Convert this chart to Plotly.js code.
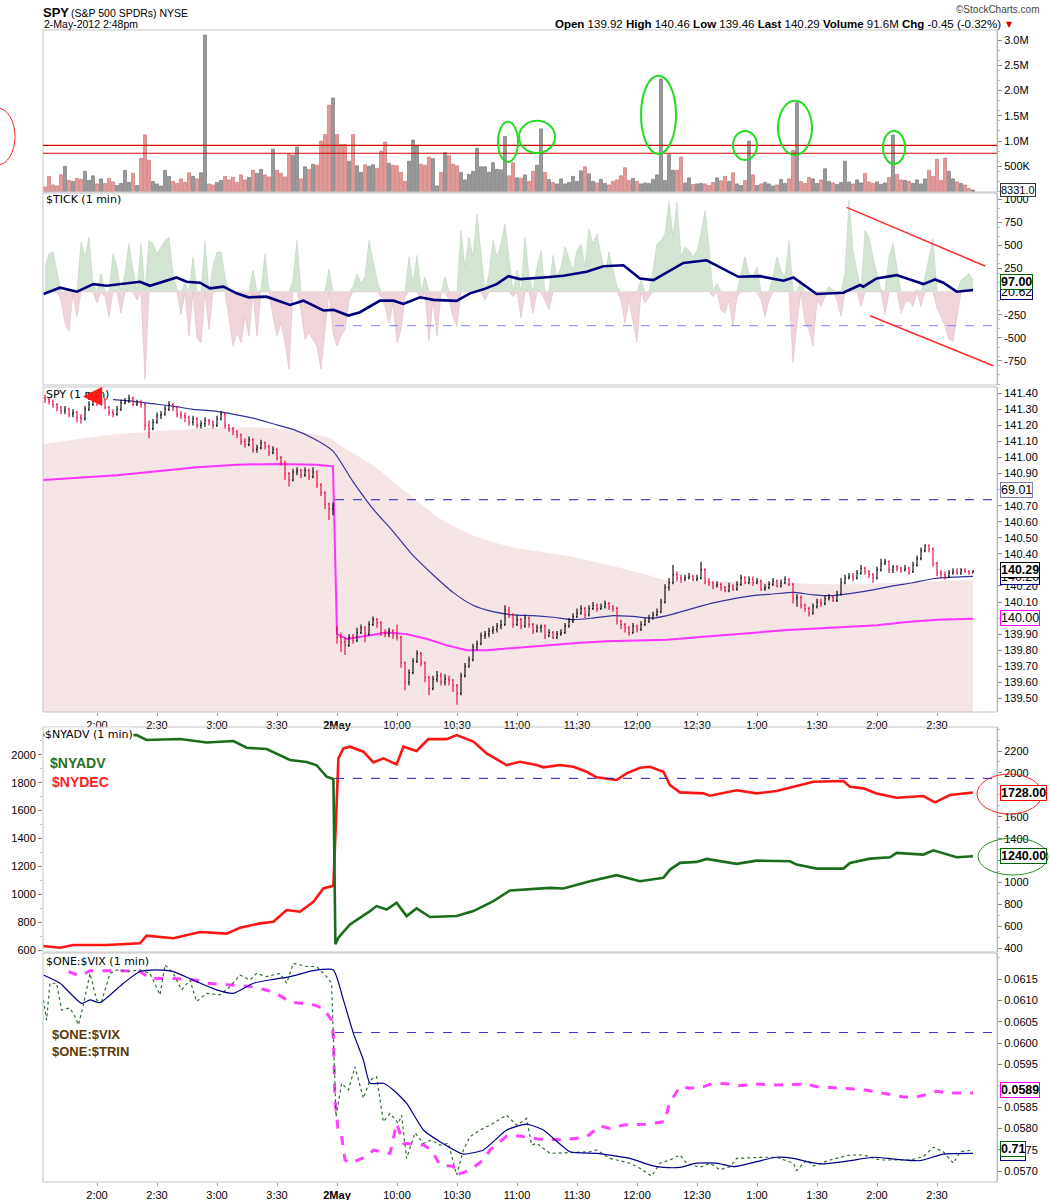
<!DOCTYPE html>
<html><head><meta charset="utf-8">
<script src="https://cdn.plot.ly/plotly-3.0.1.min.js"></script>
<style>html,body{margin:0;padding:0;background:#fff}#chart{width:1050px;height:1200px}</style>
</head><body><div id="chart"></div>
<script>
// ---------- time axis: session minutes from 1-May 14:00 (1-May 16:00 close joins 2-May 09:30 open = 120) ----------
const timeTickPos = [0,30,60,90,120,150,180,210,240,270,300,330,360,390,420];
const timeTickLabels = ['2:00','2:30','3:00','3:30','<b>2May</b>','10:00','10:30','11:00','11:30','12:00','12:30','1:00','1:30','2:00','2:30'];
const GRID_START = -26, GRID_STEP = 2;   // 2-minute sampling, 13:34 (1-May) .. 14:48 (2-May)

// ---------- volume (thousands of shares) ----------
const volumeK = [
90,300,130,110,330,500,220,200,260,240, 400,220,310,150,250,160,260,190,120,160,
420,180,360,120,660,1120,620,200,150,110, 420,300,200,160,250,180,370,300,250,370,
3100,150,130,180,220,300,230,280,180,330, 230,280,420,360,440,330,290,840,420,360,
290,740,720,880,250,490,440,540,520,1000, 1130,1710,1850,1130,930,930,600,1130,510,380,
530,500,530,460,800,980,560,520,510,380, 200,600,1020,900,540,520,680,650,110,380,
770,710,540,510,380,230,340,400,860,490, 490,380,570,440,430,1090,310,570,270,260,
330,200,400,520,1240,380,240,180,150,250, 150,180,300,200,410,490,350,200,170,240,
160,130,200,230,310,470,220,260,200,150, 170,160,240,330,2230,220,730,420,420,680,
170,270,140,150,160,150,120,180,270,210, 300,200,370,150,120,220,1000,330,120,150,
180,150,110,130,240,160,250,810,1760,200, 160,280,250,160,230,450,200,170,140,180,
600,190,150,230,170,360,190,160,190,140, 170,280,1120,340,230,220,200,160,230,150,
250,420,300,640,220,660,400,250,190,160, 130,60,30];
const volTickLabels = ['500K','1.0M','1.5M','2.0M','2.5M','3.0M'];
const volTickVals = [500,1000,1500,2000,2500,3000];
const volRefLines = [915,757];

// ---------- SPY 2-minute OHLC ----------
const spyOpen = [
141.37,141.36,141.35,141.33,141.31,141.29,141.30,141.27,141.28,141.25, 141.24,141.30,141.33,141.35,141.34,141.36,141.31,141.28,141.27,141.30,
141.34,141.35,141.37,141.33,141.34,141.33,141.20,141.18,141.22,141.26, 141.27,141.30,141.33,141.31,141.27,141.26,141.25,141.22,141.24,141.20,
141.21,141.23,141.22,141.20,141.24,141.27,141.20,141.18,141.16,141.14, 141.10,141.08,141.11,141.05,141.06,141.09,141.07,141.03,141.05,141.00,
140.97,140.90,140.86,140.91,140.92,140.89,140.92,140.88,140.91,140.83, 140.78,140.71,140.68,139.93,139.88,139.85,139.83,139.88,139.86,139.91,
139.94,139.90,139.96,139.99,139.97,139.91,139.90,139.92,139.89,139.88, 139.72,139.60,139.66,139.73,139.78,139.72,139.63,139.56,139.62,139.64,
139.60,139.62,139.61,139.58,139.53,139.64,139.70,139.74,139.82,139.84, 139.89,139.90,139.92,139.93,139.95,139.96,140.05,140.02,139.96,139.99,
139.95,140.00,139.96,139.92,139.94,139.95,139.89,139.91,139.88,139.90, 139.91,139.95,139.98,140.01,140.03,140.06,140.02,140.06,140.08,140.06,
140.07,140.09,140.07,140.06,139.98,139.96,139.94,139.91,139.95,139.93, 139.96,139.98,140.00,140.02,140.04,140.10,140.19,140.22,140.27,140.25,
140.24,140.25,140.26,140.24,140.25,140.30,140.23,140.22,140.20,140.21, 140.19,140.17,140.20,140.18,140.21,140.25,140.22,140.24,140.22,140.23,
140.18,140.19,140.21,140.23,140.20,140.22,140.24,140.21,140.12,140.13, 140.08,140.06,140.03,140.07,140.10,140.09,140.12,140.13,140.11,140.15,
140.22,140.25,140.26,140.25,140.28,140.31,140.29,140.27,140.25,140.30, 140.34,140.35,140.30,140.32,140.31,140.30,140.31,140.29,140.33,140.37,
140.42,140.45,140.43,140.34,140.28,140.27,140.26,140.28,140.29,140.28, 140.30,140.29,140.28];
const spyHigh = [
141.39,141.37,141.36,141.34,141.32,141.32,141.31,141.30,141.29,141.27, 141.32,141.35,141.37,141.37,141.38,141.37,141.32,141.30,141.32,141.36,
141.37,141.39,141.38,141.36,141.36,141.34,141.23,141.24,141.28,141.29, 141.32,141.35,141.34,141.32,141.29,141.28,141.26,141.26,141.25,141.23,
141.25,141.24,141.23,141.26,141.29,141.28,141.21,141.19,141.17,141.15, 141.12,141.13,141.12,141.08,141.11,141.10,141.08,141.07,141.06,141.01,
140.98,140.91,140.93,140.94,140.93,140.94,140.93,140.94,140.92,140.84, 140.79,140.72,140.72,139.95,139.91,139.88,139.90,139.90,139.94,139.96,
139.95,139.98,140.01,140.00,139.98,139.93,139.94,139.93,139.96,139.89, 139.73,139.68,139.75,139.80,139.79,139.73,139.64,139.64,139.67,139.66,
139.65,139.64,139.62,139.59,139.66,139.72,139.76,139.84,139.86,139.91, 139.92,139.94,139.95,139.97,139.99,140.08,140.07,140.03,140.02,140.00,
140.02,140.01,139.97,139.96,139.96,139.96,139.93,139.92,139.92,139.93, 139.97,140.00,140.03,140.06,140.08,140.07,140.08,140.10,140.09,140.09,
140.11,140.10,140.08,140.07,139.99,139.97,139.95,139.97,139.96,139.98, 140.00,140.02,140.04,140.06,140.12,140.21,140.25,140.33,140.29,140.27,
140.27,140.28,140.27,140.27,140.35,140.31,140.25,140.23,140.23,140.22, 140.20,140.22,140.21,140.23,140.27,140.26,140.26,140.26,140.25,140.24,
140.21,140.23,140.25,140.24,140.24,140.26,140.25,140.22,140.15,140.14, 140.09,140.07,140.09,140.12,140.12,140.14,140.15,140.14,140.17,140.25,
140.27,140.28,140.28,140.30,140.33,140.32,140.30,140.28,140.32,140.37, 140.37,140.36,140.33,140.33,140.32,140.33,140.32,140.35,140.39,140.44,
140.46,140.46,140.44,140.35,140.30,140.29,140.30,140.31,140.31,140.31, 140.31,140.30,140.30];
const spyLow = [
141.34,141.33,141.31,141.29,141.27,141.27,141.25,141.25,141.22,141.21, 141.23,141.29,141.32,141.32,141.33,141.30,141.26,141.25,141.26,141.29,
141.33,141.34,141.32,141.32,141.31,141.17,141.12,141.17,141.21,141.24, 141.26,141.29,141.29,141.25,141.24,141.22,141.20,141.20,141.18,141.18,
141.19,141.20,141.18,141.19,141.23,141.18,141.16,141.14,141.12,141.08, 141.06,141.07,141.03,141.03,141.05,141.05,141.01,141.02,140.98,140.95,
140.86,140.82,140.85,140.89,140.87,140.88,140.86,140.87,140.81,140.76, 140.68,140.61,140.64,139.84,139.79,139.77,139.82,139.84,139.85,139.90,
139.85,139.89,139.95,139.94,139.89,139.88,139.88,139.87,139.86,139.69, 139.55,139.58,139.65,139.72,139.70,139.60,139.52,139.55,139.60,139.58,
139.58,139.58,139.54,139.46,139.52,139.63,139.69,139.73,139.80,139.83, 139.87,139.88,139.90,139.91,139.93,139.95,140.00,139.94,139.95,139.93,
139.94,139.94,139.90,139.91,139.91,139.87,139.88,139.87,139.87,139.89, 139.90,139.94,139.97,140.00,140.02,140.00,140.01,140.05,140.04,140.05,
140.06,140.05,140.04,139.96,139.93,139.91,139.89,139.90,139.91,139.92, 139.95,139.97,139.99,140.01,140.03,140.09,140.17,140.21,140.23,140.22,
140.23,140.24,140.23,140.23,140.24,140.21,140.20,140.18,140.19,140.17, 140.16,140.16,140.17,140.17,140.20,140.21,140.21,140.20,140.21,140.17,
140.17,140.18,140.20,140.19,140.19,140.21,140.20,140.09,140.07,140.06, 140.04,140.01,140.02,140.06,140.07,140.08,140.11,140.10,140.10,140.14,
140.21,140.24,140.23,140.24,140.27,140.27,140.25,140.22,140.24,140.29, 140.33,140.28,140.28,140.29,140.28,140.29,140.27,140.28,140.32,140.36,
140.41,140.41,140.32,140.26,140.25,140.24,140.25,140.27,140.27,140.27, 140.28,140.27,140.28];
const spyClose = [
141.36,141.35,141.33,141.31,141.29,141.30,141.27,141.28,141.25,141.24, 141.30,141.33,141.35,141.34,141.36,141.31,141.28,141.27,141.30,141.34,
141.35,141.37,141.33,141.34,141.33,141.20,141.18,141.22,141.26,141.27, 141.30,141.33,141.31,141.27,141.26,141.25,141.22,141.24,141.20,141.21,
141.23,141.22,141.20,141.24,141.27,141.20,141.18,141.16,141.14,141.10, 141.08,141.11,141.05,141.06,141.09,141.07,141.03,141.05,141.00,140.97,
140.90,140.86,140.91,140.92,140.89,140.92,140.88,140.91,140.83,140.78, 140.71,140.68,140.70,139.88,139.85,139.83,139.88,139.86,139.91,139.94,
139.90,139.96,139.99,139.97,139.91,139.90,139.92,139.89,139.88,139.72, 139.60,139.66,139.73,139.78,139.72,139.63,139.56,139.62,139.64,139.60,
139.62,139.61,139.58,139.53,139.64,139.70,139.74,139.82,139.84,139.89, 139.90,139.92,139.93,139.95,139.96,140.05,140.02,139.96,139.99,139.95,
140.00,139.96,139.92,139.94,139.95,139.89,139.91,139.88,139.90,139.91, 139.95,139.98,140.01,140.03,140.06,140.02,140.06,140.08,140.06,140.07,
140.09,140.07,140.06,139.98,139.96,139.94,139.91,139.95,139.93,139.96, 139.98,140.00,140.02,140.04,140.10,140.19,140.22,140.27,140.25,140.24,
140.25,140.26,140.24,140.25,140.30,140.23,140.22,140.20,140.21,140.19, 140.17,140.20,140.18,140.21,140.25,140.22,140.24,140.22,140.23,140.18,
140.19,140.21,140.23,140.20,140.22,140.24,140.21,140.12,140.13,140.08, 140.06,140.03,140.07,140.10,140.09,140.12,140.13,140.11,140.15,140.22,
140.25,140.26,140.25,140.28,140.31,140.29,140.27,140.25,140.30,140.34, 140.35,140.30,140.32,140.31,140.30,140.31,140.29,140.33,140.37,140.42,
140.45,140.43,140.34,140.28,140.27,140.26,140.28,140.29,140.28,140.30, 140.29,140.28,140.29];
const spyTickLabels = ['139.50','139.60','139.70','139.80','139.90','140.10','140.20','140.40','140.50','140.60','140.70','140.90','141.00','141.10','141.20','141.30','141.40'];

// SPY overlays (time in session minutes)
const spyMaStart = 8, spyMaStep = 10;
const spyMa = [141.36,141.35,141.335,141.32,141.30,141.29,141.27,141.245,141.21,141.175,
141.12,141.04,140.85,140.68,140.54,140.39,140.27,140.16,140.08,140.04,
140.02,140.015,140.005,139.99,140.00,140.015,140.01,140.00,140.025,140.06,
140.095,140.12,140.14,140.15,140.16,140.145,140.14,140.155,140.175,140.20,
140.22,140.245,140.255,140.26];
const spyPinkT = [-27,-10,10,30,50,70,90,110,118,120,125,135,145,155,165,175,185,195,210,225,240,255,270,285,300,315,330,345,360,375,390,405,420,438];
const spyPinkV = [140.86,140.875,140.89,140.915,140.94,140.955,140.96,140.955,140.945,139.90,139.87,139.89,139.91,139.90,139.87,139.83,139.80,139.80,139.815,139.83,139.845,139.855,139.86,139.865,139.88,139.895,139.91,139.925,139.935,139.945,139.955,139.975,139.99,139.995];
const spyBandT = [-27,5,38,65,88,105,116.5,121.5,138,155,171.5,188,206.5,240.9,275.3,284,327,371.7,437,438];
const spyBandV = [141.082,141.138,141.169,141.188,141.182,141.151,141.12,141.076,140.95,140.78,140.62,140.515,140.445,140.372,140.268,140.237,140.227,140.21,140.237,140.237];
const spyRefLine = 140.737;

// ---------- $TICK (2-minute samples) ----------
const tickVals = [
268,411,430,197,-90,-340,-430,-20,-270,537, 376,590,90,-125,197,-54,-270,411,268,-232,
197,519,232,-90,519,-948,554,519,411,483, 554,590,197,18,-250,90,-483,376,-500,-554,
554,-411,268,429,429,161,-286,-590,-447,-554, -268,-483,232,-483,18,411,18,-268,-483,-340,
-554,-840,125,554,-197,-518,-447,-518,-590,-840, -411,250,-447,-590,-483,-411,-90,54,197,90,
161,554,340,125,-54,-161,-340,-125,-554,-411, -54,376,90,393,-90,161,-537,-90,-483,-18,
161,-90,-268,-376,662,268,590,376,840,411, -90,197,554,376,519,733,376,-54,232,-286,
590,161,-232,268,447,-90,-197,393,161,268, 483,358,232,447,519,268,680,519,626,393,
197,429,232,54,-90,-340,-90,-340,-554,125, -125,-54,232,519,554,626,983,590,966,376,
483,447,376,447,626,876,483,-54,90,-197, -232,-90,-376,-54,197,376,197,161,268,-90,
-268,-90,161,376,232,161,554,-769,-340,125, -340,-411,-590,-90,-161,-54,54,18,-90,-268,
197,990,447,232,-161,662,590,376,197,18, -250,376,519,268,-232,-125,-90,-161,18,-161,
161,376,572,-179,-268,-376,-518,-537,-268,125, 161,197,125];
const tickMaT = [-26.8,-18.5,-10,-1.8,4.8,13.2,21.5,26.5,34.8,39.8,44.8,51.5,56.5,63.2,69.8,75.7,84.8,96.5,103.2,113.2,118.2,125.7,131.5,141.5,148.2,153.2,161.5,168.2,179.8,186.5,193.2,199.8,205.7,211.5,223.2,233.2,244.8,253.2,263.2,271.5,278.2,286.5,293.2,304.8,311.5,320.7,331.5,343.2,348.2,359.8,373.2,381.5,383.2,389.8,399.8,404.8,413.2,419,423.2,429.8,438];
const tickMaV = [-25,43,0,82,64,89,107,64,125,154,107,97,36,54,-18,-61,-54,-143,-97,-204,-197,-258,-222,-97,-97,-132,-61,-89,-100,-18,25,82,168,136,154,172,215,275,286,143,125,232,311,340,261,161,168,118,154,-25,-11,72,54,143,179,143,82,132,97,0,18];
const tickAxisVals = [-750,-500,-250,250,500,750,1000];
const tickRefLine = -368;

// ---------- $NYADV / $NYDEC ----------
const nyadvT = [-27,19.8,24.8,41.5,54.8,68.2,74.8,84.8,96.5,104.8,109.8,114.8,118.2,119.2,120.7,126.5,136.5,139.8,144.8,149.8,154.8,159.8,166.5,179.8,188.2,198.2,206.5,216.5,226.5,233.2,246.5,259.8,271.5,283.2,286.5,291.5,299.8,304.8,319.8,329.8,346.5,349.8,359.8,373.2,376.5,386.5,396.5,399.8,413.2,418.2,429.8,438];
const nyadvV = [2345,2345,2300,2309,2277,2291,2230,2218,2118,2100,2070,1966,1945,436,497,618,739,785,754,815,694,764,685,694,739,830,927,936,951,945,1012,1067,1012,1042,1118,1179,1188,1215,1170,1200,1194,1164,1127,1127,1179,1218,1230,1270,1255,1294,1230,1240];
const nydecT = [-27,-18.5,-11.8,4.8,21.5,24.8,38.2,51.5,64.8,71.5,81.5,88.2,94.8,101.5,108.2,113.2,118.2,119.5,120.7,123.2,126.5,133.2,138.2,143.2,149.8,153.2,159.8,165.7,174.8,179.8,188.2,194.8,204.8,211.5,219.8,223.2,231.5,238.2,244.8,249.8,259.8,264.8,271.5,276.5,283.2,286.5,291.5,303.2,306.5,319.8,329.8,339.8,348.2,358.2,373.2,376.5,383.2,389.8,399.8,413.2,419,426.5,438];
const nydecV = [629,617,636,636,648,703,685,729,718,760,791,803,887,875,946,1042,1061,1496,1974,2046,2058,2022,1945,1974,1931,2058,2027,2112,2112,2141,2094,2010,1926,1950,1926,1910,1926,1914,1878,1838,1819,1867,1907,1914,1878,1783,1730,1723,1706,1745,1723,1740,1771,1807,1812,1771,1759,1723,1692,1704,1659,1711,1730];
const advRightTicks = [400,600,800,1000,1200,1400,1600,2000,2200];
const advLeftTicks = [600,800,1000,1200,1400,1600,1800,2000];
const advRefLine = 1831;

// ---------- $ONE:$VIX and $ONE:$TRIN ----------
const vixRatioT = [-14.3,-8.5,-3.5,13.2,21.5,26.5,38.2,49.8,54.8,68.2,76.5,88.2,96.5,108.2,113.2,117.3,118.2,119,120.7,122.3,124,126.5,134.8,138.2,146.5,149.8,153.2,163.2,167.3,171.5,178.2,179.8,186.5,193.2,196.5,204.8,211.5,220.7,233.2,244.8,251.5,256.5,263.2,274.8,284,285.7,288.2,291.5,296.5,303.2,308.2,316.5,319.8,329.8,339.8,354.8,359.8,383.2,393.2,403.2,409.8,416.5,419.8,426.5,438];
const vixRatioV = [0.06168,0.06158,0.0617,0.0617,0.06168,0.06152,0.06152,0.06148,0.06141,0.06137,0.06133,0.06121,0.06097,0.0609,0.06082,0.06054,0.06015,0.05867,0.05789,0.05782,0.05726,0.05718,0.05734,0.05749,0.05741,0.05812,0.05765,0.05761,0.05749,0.05714,0.05711,0.05691,0.05702,0.05726,0.05749,0.05782,0.05782,0.05775,0.05773,0.0578,0.05806,0.058,0.05808,0.0581,0.05816,0.05851,0.05874,0.05898,0.05894,0.05898,0.05906,0.05904,0.059,0.05904,0.05902,0.05904,0.05898,0.05891,0.05883,0.05874,0.05874,0.05881,0.05887,0.05883,0.05883];
const trinRatioT = [-26.8,-25.2,-23.5,-20.2,-17.7,-13.5,-11,-9.3,-6.8,-3.5,-0.2,2.3,6.5,9.8,14.8,21.5,26.5,31.5,34,38.2,42.3,46.5,49.8,54.8,61.5,66.5,71.5,76.5,79.8,84.8,91.5,94.8,98.2,104.8,109.8,114.8,117.3,119.5,122.3,125.7,129,133.2,136.5,139.8,143.2,146.5,150.7,152.3,154.8,159,163.2,167.3,171.5,175.7,179.8,183.2,186.5,191.5,196.5,204.8,209.8,214.8,217.3,219.8,226.5,233.2,246.5,249.8,256.5,266.5,271.5,277.3,281.5,286.5,291.5,294.8,301.5,306.5,311.5,316.5,319.8,333.2,339.8,348.2,349.8,354.8,358.2,366.5,376.5,383.2,391.5,399.8,406.5,413.2,418.2,423.2,428.2,431.5,438];
const trinRatioV = [1.365,1.277,1.438,1.438,1.321,1.33,1.292,1.256,1.343,1.481,1.365,1.358,1.481,1.496,1.489,1.496,1.481,1.387,1.518,1.481,1.409,1.452,1.358,1.394,1.387,1.423,1.474,1.452,1.481,1.467,1.481,1.438,1.525,1.511,1.511,1.467,1.438,0.855,1.001,0.972,1.073,0.935,1.015,1.03,0.833,0.869,0.826,0.862,0.673,0.785,0.739,0.753,0.731,0.739,0.601,0.71,0.768,0.797,0.818,0.862,0.818,0.848,0.731,0.739,0.695,0.698,0.702,0.71,0.673,0.652,0.63,0.596,0.652,0.666,0.688,0.652,0.634,0.652,0.623,0.637,0.673,0.678,0.678,0.652,0.62,0.666,0.64,0.666,0.688,0.688,0.666,0.666,0.666,0.681,0.722,0.702,0.652,0.702,0.71];
const trinMaT = [-26.8,-18.5,-7.7,-3.5,1.5,13.2,21.5,29.8,38.2,49.8,59.8,68.2,78.2,88.2,96.5,108.2,118.2,123.2,128.2,133.2,136.5,143.2,148.2,154.8,163.2,171.5,183.2,193.2,204.8,214.8,223.2,236.5,249.8,266.5,276.5,283.2,291.5,299.8,309.8,318.2,329.8,339.8,348.2,354.8,363.2,376.5,388.2,399.8,411.5,423.2,438];
const trinMaV = [1.474,1.438,1.35,1.365,1.353,1.438,1.489,1.496,1.489,1.445,1.409,1.394,1.438,1.455,1.467,1.493,1.496,1.365,1.219,1.103,1.001,1.001,0.972,0.914,0.797,0.746,0.692,0.71,0.797,0.823,0.797,0.702,0.695,0.673,0.644,0.634,0.634,0.652,0.652,0.637,0.659,0.678,0.673,0.659,0.649,0.663,0.678,0.669,0.663,0.692,0.695];
const vixTickLabels = ['0.0570','0.0575','0.0580','0.0585','0.0595','0.0600','0.0605','0.0610','0.0615'];
const vixRefLine = 0.06025;

// ---------- build ----------
const W = 1050, H = 1200;
const px = x => x / W, py = y => 1 - y / H;
const XR = [-27, 450], XD = [px(43), px(997)];
const SANS = "'Liberation Sans',Arial,sans-serif";
const VERD = "'DejaVu Sans',Verdana,sans-serif";
const SPY_RANGE = [139.415, 141.439];

const barT = spyClose.map((_, k) => GRID_START + GRID_STEP * k);
const maT = spyMa.map((_, k) => spyMaStart + spyMaStep * k);
const upBar = spyClose.map((c, k) => c >= spyOpen[k]);

const traces = [
  {type:'bar', x:barT, y:volumeK, xaxis:'x', yaxis:'y', width:1.5,
   marker:{color:upBar.map(u => u ? '#999999' : '#e39a9a'), line:{color:upBar.map(u => u ? '#6e6e6e' : '#c46a6a'), width:0.6}}},
  {type:'scatter', mode:'lines', x:barT, y:tickVals.map(v => Math.max(v, 0)), xaxis:'x2', yaxis:'y2',
   fill:'tozeroy', fillcolor:'#d3e4d3', line:{color:'#bcd4bc', width:0.6}},
  {type:'scatter', mode:'lines', x:barT, y:tickVals.map(v => Math.min(v, 0)), xaxis:'x2', yaxis:'y2',
   fill:'tozeroy', fillcolor:'#efd5da', line:{color:'#dcbcc3', width:0.6}},
  {type:'scatter', mode:'lines', x:tickMaT, y:tickMaV, xaxis:'x2', yaxis:'y2', line:{color:'#00007f', width:2.6}},
  {type:'scatter', mode:'lines', x:spyBandT, y:spyBandV, xaxis:'x3', yaxis:'y3', fill:'tozeroy', fillcolor:'#f6e5e5',
   line:{width:0, shape:'spline', smoothing:0.8, color:'#f6e5e5'}},
  {type:'scatter', mode:'lines', x:spyPinkT, y:spyPinkV, xaxis:'x3', yaxis:'y3', line:{color:'#ff33ff', width:2}},
  {type:'scatter', mode:'lines', x:maT, y:spyMa, xaxis:'x3', yaxis:'y3', line:{color:'#333399', width:1.2, shape:'spline', smoothing:0.6}},
  {type:'ohlc', x:barT, open:spyOpen, high:spyHigh, low:spyLow, close:spyClose, xaxis:'x3', yaxis:'y8', tickwidth:0.25,
   increasing:{line:{color:'#000000', width:1.1}}, decreasing:{line:{color:'#e8003a', width:1.1}}},
  {type:'scatter', mode:'lines', x:nydecT, y:nydecV, xaxis:'x4', yaxis:'y4', line:{color:'#ff1414', width:2.6}},
  {type:'scatter', mode:'lines', x:nyadvT, y:nyadvV, xaxis:'x4', yaxis:'y5', line:{color:'#1d6b1d', width:2.6}},
  {type:'scatter', mode:'lines', x:vixRatioT, y:vixRatioV, xaxis:'x5', yaxis:'y6', line:{color:'#ff40ff', width:3, dash:'dash'}},
  {type:'scatter', mode:'lines', x:trinRatioT, y:trinRatioV, xaxis:'x5', yaxis:'y7', line:{color:'#2f6e2f', width:1.2, dash:'dot'}},
  {type:'scatter', mode:'lines', x:trinMaT, y:trinMaV, xaxis:'x5', yaxis:'y7', line:{color:'#00008b', width:1.2, shape:'spline', smoothing:0.5}}
];

const tf = {family:SANS, size:11, color:'#000'};
function xax(anchor, labels, extra) {
  return Object.assign({domain:XD, range:XR, anchor:anchor, showgrid:false, zeroline:false, showline:false,
    tickmode:'array', tickvals:timeTickPos, ticktext:timeTickLabels, showticklabels:labels,
    ticks: labels ? 'outside' : '', ticklen:3, tickcolor:'#999', tickfont:tf, fixedrange:true}, extra || {});
}
function yax(dom, anchor, range, vals, text, extra) {
  return Object.assign({domain:dom, anchor:anchor, range:range, side:'right', showgrid:false, zeroline:false,
    showline:true, linecolor:'#a8a8a8', ticks:'outside', ticklen:4, tickcolor:'#888', tickfont:tf,
    tickmode:'array', tickvals:vals, ticktext:text,
    minor:{ticks:'outside', ticklen:2, tickcolor:'#bbbbbb', nticks:5}, fixedrange:true}, extra || {});
}

const spyTickVals = spyTickLabels.map(parseFloat);
const vixTickVals = vixTickLabels.map(parseFloat);

const layout = {
  width:W, height:H, margin:{l:0, r:0, t:0, b:0}, showlegend:false, hovermode:false,
  paper_bgcolor:'#fff', plot_bgcolor:'#fff', bargap:0,
  xaxis: xax('y', false),
  xaxis2: xax('y2', false),
  xaxis3: xax('y3', true, {rangeslider:{visible:false}}),
  xaxis4: xax('y4', false, {side:'top', ticks:'inside', ticklen:3}),
  xaxis5: xax('y6', true),
  yaxis: yax([py(192), py(30)], 'x', [-10, 3198], volTickVals, volTickLabels),
  yaxis2: yax([py(385), py(193)], 'x2', [-1010, 1068], tickAxisVals, tickAxisVals.map(String)),
  yaxis3: yax([py(712), py(387)], 'x3', SPY_RANGE, spyTickVals, spyTickLabels),
  yaxis4: yax([py(952), py(727)], 'x4', [586, 2199], advLeftTicks, advLeftTicks.map(String), {side:'left', showline:false}),
  yaxis5: yax([py(952), py(727)], 'x4', [366, 2419], advRightTicks, advRightTicks.map(String), {overlaying:'y4'}),
  yaxis6: yax([py(1182), py(953)], 'x5', [0.056742, 0.062117], vixTickVals, vixTickLabels),
  yaxis7: {overlaying:'y6', anchor:'x5', range:[0.57, 1.57], visible:false, fixedrange:true},
  yaxis8: {overlaying:'y3', anchor:'x3', range:SPY_RANGE, visible:false, fixedrange:true},
  shapes: [], annotations: []
};

// panel frames
[[30,192],[193,385],[387,712],[727,952],[953,1182]].forEach(([t,b]) => layout.shapes.push(
  {type:'rect', xref:'paper', yref:'paper', x0:px(43), x1:px(997), y0:py(b), y1:py(t), line:{color:'#c4c4c4', width:1}, layer:'above'}));
// reference lines
volRefLines.forEach(v => layout.shapes.push({type:'line', xref:'paper', yref:'y', x0:px(43), x1:px(997), y0:v, y1:v, line:{color:'#d40000', width:1.2}}));
layout.shapes.push({type:'line', xref:'x2', yref:'y2', x0:119, x1:450, y0:tickRefLine, y1:tickRefLine, line:{color:'#7f7fff', width:1, dash:'dash'}});
layout.shapes.push({type:'line', xref:'x3', yref:'y3', x0:119, x1:450, y0:spyRefLine, y1:spyRefLine, line:{color:'#1a1acc', width:1, dash:'dash'}});
layout.shapes.push({type:'line', xref:'x4', yref:'y4', x0:119, x1:450, y0:advRefLine, y1:advRefLine, line:{color:'#1a1acc', width:1, dash:'dash'}});
layout.shapes.push({type:'line', xref:'x5', yref:'y6', x0:119, x1:450, y0:vixRefLine, y1:vixRefLine, line:{color:'#3333cc', width:1, dash:'dash'}});
// hand-drawn marks
const G = '#22dd22';
[[200.5,210.5,585,1379],[211,229,764,1399],[272,289.5,744,2291],[318,330,625,1200],[340.5,357.5,724,1796],[393,404,546,1200]]
  .forEach(([a,b,c,d]) => layout.shapes.push({type:'circle', xref:'x', yref:'y', x0:a, x1:b, y0:c, y1:d, line:{color:G, width:2}}));
layout.shapes.push({type:'circle', xref:'paper', yref:'paper', x0:px(-20), x1:px(15), y0:py(165), y1:py(108), line:{color:'#ff2020', width:1}});
layout.shapes.push({type:'line', xref:'x2', yref:'y2', x0:374.8, y0:913, x1:444, y1:278, line:{color:'#ff2a2a', width:1.5}});
layout.shapes.push({type:'line', xref:'x2', yref:'y2', x0:386.5, y0:-260, x1:448.2, y1:-801, line:{color:'#ff2a2a', width:1.5}});
layout.shapes.push({type:'circle', xref:'paper', yref:'paper', x0:px(977), x1:px(1042), y0:py(814), y1:py(774), line:{color:'#ff2020', width:1}});
layout.shapes.push({type:'circle', xref:'paper', yref:'paper', x0:px(978), x1:px(1048), y0:py(875), y1:py(838), line:{color:'#2a8a2a', width:1}});

const A = layout.annotations;
function txt(x, y, text, font, extra) {
  A.push(Object.assign({xref:'paper', yref:'paper', x:px(x), y:py(y), xanchor:'left', yanchor:'middle', text:text, showarrow:false, font:font}, extra || {}));
}
// header
txt(41, 12, '<b>SPY</b>', {family:SANS, size:13, color:'#000'});
txt(69, 13, '(S&amp;P 500 SPDRs) NYSE', {family:SANS, size:10.5, color:'#000'});
txt(42, 24, '2-May-2012 2:48pm', {family:SANS, size:10.5, color:'#000'});
txt(1003, 24, '<b>Open</b> 139.92 <b>High</b> 140.46 <b>Low</b> 139.46 <b>Last</b> 140.29 <b>Volume</b> 91.6M <b>Chg</b> -0.45 (-0.32%)', {family:SANS, size:11.5, color:'#000'}, {xanchor:'right'});
txt(1004, 24, '▼', {family:VERD, size:8, color:'#cc0000'});
txt(1042, 10, '©StockCharts.com', {family:SANS, size:10, color:'#444'}, {xanchor:'right'});
// panel titles
txt(44, 200, '$TICK (1 min)', {family:VERD, size:11, color:'#000'});
txt(44, 395, 'SPY (1 min)', {family:VERD, size:11, color:'#000'});
txt(44, 734, '$NYADV (1 min)', {family:VERD, size:11, color:'#000'}, {bgcolor:'#fff', borderpad:0});
txt(44, 961, '$ONE:$VIX (1 min)', {family:VERD, size:11, color:'#000'});
// legends
txt(48, 763, '<b>$NYADV</b>', {family:SANS, size:14, color:'#2b6e1e'});
txt(50, 782, '<b>$NYDEC</b>', {family:SANS, size:14, color:'#ff2020'});
txt(50, 1034, '<b>$ONE:$VIX</b>', {family:SANS, size:13, color:'#5c3a06'});
txt(50, 1051, '<b>$ONE:$TRIN</b>', {family:SANS, size:13, color:'#5c3a06'});
// red arrow marker in SPY panel
A.push({xref:'x3', yref:'y3', x:-7, y:141.38, ax:13, ay:0, text:'', showarrow:true, arrowhead:2, arrowsize:0.55, arrowwidth:7, arrowcolor:'#ff1a1a'});
// right-hand value tags
function tag(text, yref, y, border, bold, size) {
  A.push({xref:'paper', x:px(1000), xanchor:'left', yref:yref, y:y, yanchor:'middle', showarrow:false,
    text: bold ? '<b>' + text + '</b>' : text, bgcolor:'#fff', bordercolor:border, borderwidth:1, borderpad:0,
    font:{family:SANS, size:size || 12.5, color:'#000'}});
}
tag('8331.0', 'y', 30, '#333', false, 11);
tag('20.62', 'y2', -3, '#000080', false);
tag('97.00', 'y2', 105, '#006400', true);
tag('69.01', 'y3', 140.796, '#7f7fbf', false);
tag('140.20', 'y3', 140.255, '#000080', false);
tag('140.29', 'y3', 140.30, '#000', true);
tag('140.00', 'y3', 140.00, '#ff00ff', false);
tag('1728.00', 'y4', 1728, '#ff0000', true);
tag('1240.00', 'y5', 1240, '#006400', true);
tag('0.0589', 'y6', 0.0589, '#ff00ff', true);
tag('0.70', 'y7', 0.695, '#000080', true);
tag('0.71', 'y7', 0.714, '#006400', true);

Plotly.newPlot('chart', traces, layout, {staticPlot:true, displayModeBar:false});
</script></body></html>
